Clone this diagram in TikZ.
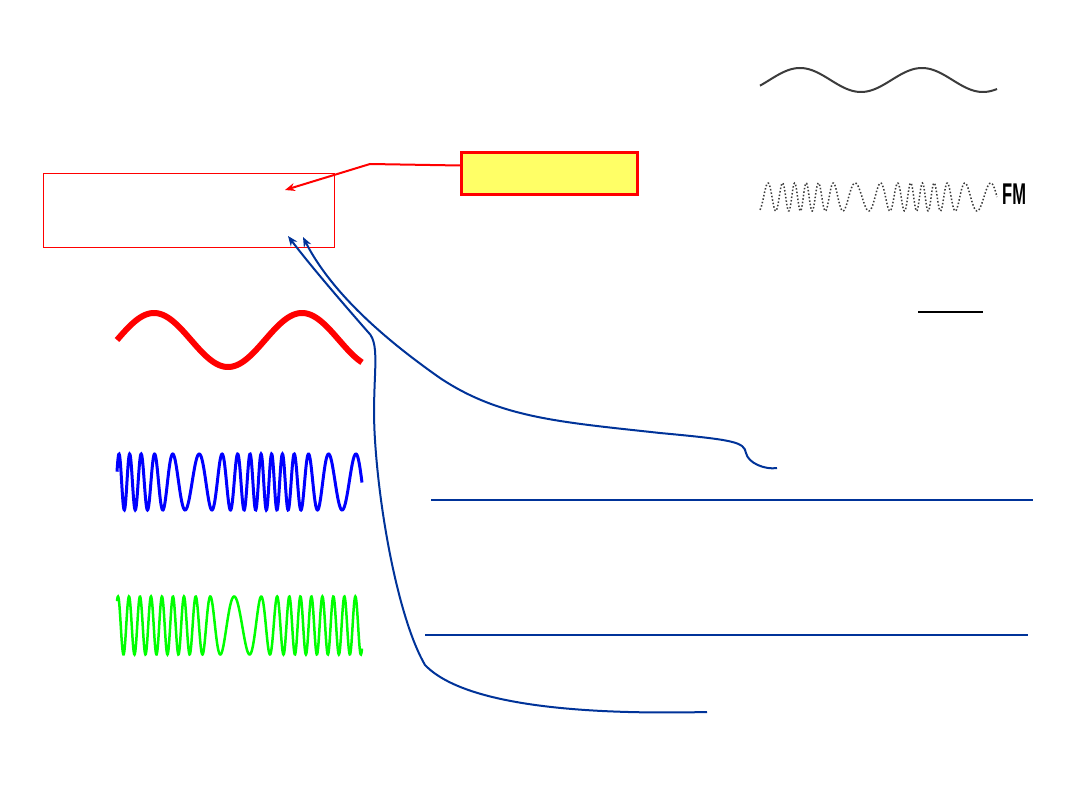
\documentclass[tikz,border=0pt]{standalone}
\usepackage{fontspec}
\setmainfont{Liberation Sans}
\usepackage{graphicx}
\usetikzlibrary{arrows.meta}
\definecolor{connblue}{RGB}{0,51,153}
\definecolor{boxyellow}{RGB}{255,255,102}
\definecolor{wavegray}{RGB}{60,60,60}
\begin{document}
\begin{tikzpicture}[x=1pt,y=-1pt,
  framebox/.style={draw=red, line width=1pt, anchor=north west, inner sep=0pt},
  notebox/.style={draw=red, line width=3pt, fill=boxyellow, anchor=north west, inner sep=0pt},
  redarrow/.style={red, line width=2pt, -{Stealth[length=10pt,width=8pt]}},
  bluearrow/.style={connblue, line width=2pt, -{Stealth[length=10pt,width=8pt]}},
  bluerule/.style={connblue, line width=1.6pt},
  ]
\useasboundingbox (0,0) rectangle (1080,810);
\fill[white] (0,0) rectangle (1080,810);

% boxes
\node[framebox, minimum width=291pt, minimum height=74pt] (frame) at (43,173) {};
\node[notebox, minimum width=176pt, minimum height=42pt] (note) at (460,151) {};

% red arrow
\coordinate (rbend) at (370,164);
\coordinate (rtip) at (285,190);
\draw[redarrow] ([yshift=8pt]note.west) -- (rbend) -- (rtip);

% top right waves
\draw[wavegray, line width=2pt] plot[domain=760:997, samples=120, smooth]
  (\x, {80-12*sin(2.951*(\x-760)-28)});
\draw[wavegray, line width=1.5pt, dotted] plot[domain=760:997, samples=500]
  (\x, {197-14*sin(22.14*(\x-760)+178.2*sin(2.951*(\x-800))+90.6)});
\node[anchor=west, inner sep=0pt] (fm) at (1002,194)
  {\scalebox{0.55}[1]{\fontsize{30}{30}\selectfont\bfseries FM}};

% black rule
\coordinate (bl1) at (918,312);
\coordinate (bl2) at (983,312);
\draw[black, line width=2pt] (bl1) -- (bl2);

% left waves
\draw[red, line width=6pt] plot[domain=117:362, samples=150, smooth]
  (\x, {340-27*sin(2.4324*(\x-117))});
\draw[blue, line width=3pt] plot[domain=117:362, samples=700]
  (\x, {482-28*sin(23.4*(\x-117)+257.8*sin(2.4*(\x-268))+32.4)});
\draw[green, line width=2.5pt] plot[domain=117:362, samples=700]
  (\x, {625.5-29*sin(32.76*(\x-117)-21.6*(max(-60,min(60,\x-238))/2+9.549*sin(3*max(-60,min(60,\x-238))))+129.2)});

% blue horizontal rules
\coordinate (h1a) at (431,500);
\coordinate (h1b) at (1033,500);
\coordinate (h2a) at (425,635);
\coordinate (h2b) at (1028,635);
\draw[bluerule] (h1a) -- (h1b);
\draw[bluerule] (h2a) -- (h2b);

% blue connectors
\coordinate (ca) at (777,468);
\coordinate (catip) at (303,237);
\draw[bluearrow] (ca) .. controls (765,470) and (748,463) .. (746,453)
  .. controls (744,442) and (735,440) .. (660,433)
  .. controls (560,422) and (500,418) .. (440,378)
  .. controls (380,336) and (330,290) .. (catip);
\coordinate (cb) at (707,712);
\coordinate (cbtip) at (288,236);
\draw[bluearrow] (cb) .. controls (620,714) and (470,712) .. (425,665)
  .. controls (400,622) and (380,520) .. (375,440)
  .. controls (371,380) and (382,345) .. (368,332)
  .. controls (340,300) and (310,265) .. (cbtip);
\end{tikzpicture}
\end{document}
